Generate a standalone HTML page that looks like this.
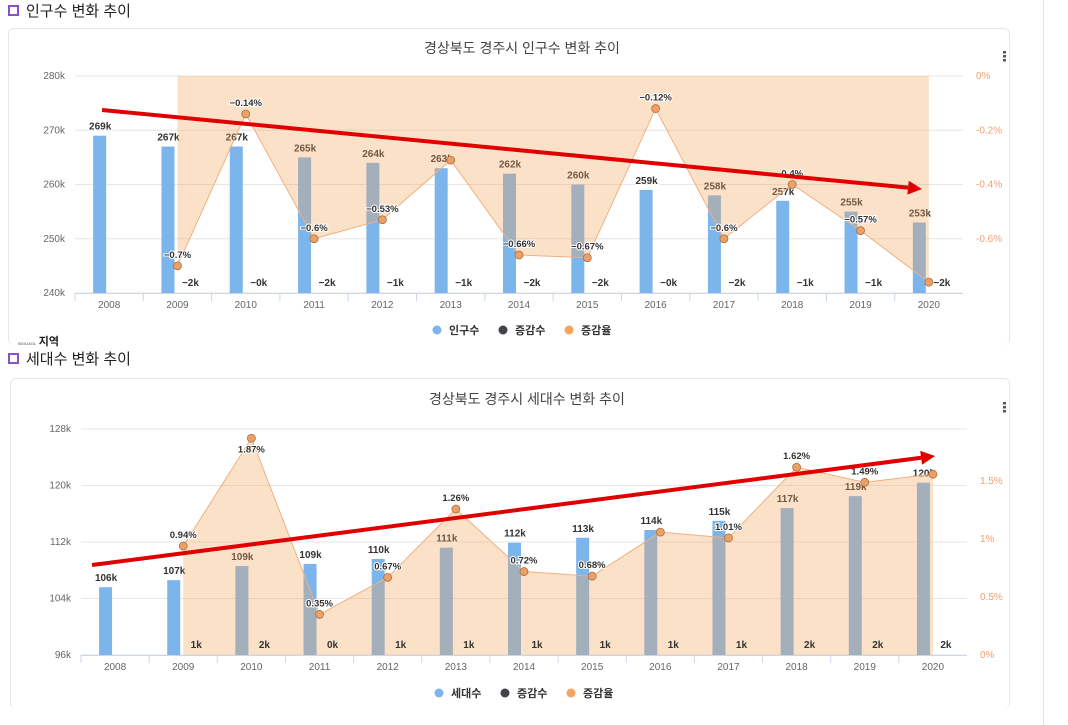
<!DOCTYPE html>
<html><head><meta charset="utf-8">
<style>
body{margin:0;width:1068px;height:725px;background:#fff;font-family:"Liberation Sans","Noto Sans CJK KR",sans-serif;overflow:hidden;position:relative}
.hdr{position:absolute;left:8px;font-size:15px;color:#222;display:flex;align-items:center}
.hdr i{display:inline-block;width:7px;height:7px;border:2px solid #8a4fc9;margin-right:7px}
.card{position:absolute;border:1px solid #e6e6e6;border-radius:6px;background:#fff}
svg{position:absolute;left:0;top:0}
.vline{position:absolute;left:1043px;top:0;width:1px;height:725px;background:#e4e4e4}
</style></head><body>
<div class="hdr" style="top:0px"><i></i>인구수 변화 추이</div>
<div class="hdr" style="top:348px"><i></i>세대수 변화 추이</div>
<div class="card" style="left:8px;top:28px;width:1000px;height:316px;border-bottom:none"></div>
<div class="card" style="left:10px;top:378px;width:998px;height:330px;border-bottom:none"></div>
<div class="vline"></div>
<div style="position:absolute;left:18px;top:333px;font-size:11px;font-weight:bold;color:#222"><span style="font-size:4px;color:#888">BIGDATA</span> 지역</div>
<svg id="chart" width="1068" height="725" xmlns="http://www.w3.org/2000/svg"></svg>
<script>
const years = ['2008','2009','2010','2011','2012','2013','2014','2015','2016','2017','2018','2019','2020'];
const popValues = [269,267,267,265,264,263,262,260,259,258,257,255,253];
const popRates = [null,-0.7,-0.14,-0.6,-0.53,-0.31,-0.66,-0.67,-0.12,-0.6,-0.4,-0.57,-0.76];
const popRateLabels = ['','−0.7%','−0.14%','−0.6%','−0.53%','','−0.66%','−0.67%','−0.12%','−0.6%','0.4%','−0.57%',''];
const popChanges = ['','−2k','−0k','−2k','−1k','−1k','−2k','−2k','−0k','−2k','−1k','−1k','−2k'];
const popLeftTicks = [240,250,260,270,280];
const popRightTicks = [0,-0.2,-0.4,-0.6];
const hhValues = [105.6,106.6,108.6,108.9,109.6,111.2,111.9,112.6,113.7,115,116.8,118.5,120.4];
const hhRates = [null,0.94,1.87,0.35,0.67,1.26,0.72,0.68,1.06,1.01,1.62,1.49,1.56];
const hhRateLabels = ['','0.94%','1.87%','0.35%','0.67%','1.26%','0.72%','0.68%','','1.01%','1.62%','1.49%',''];
const hhChanges = ['','1k','2k','0k','1k','1k','1k','1k','1k','1k','2k','2k','2k'];
const hhLeftTicks = [96,104,112,120,128];
const hhRightTicks = [0,0.5,1,1.5];

const svg=document.getElementById('chart');
const NS='http://www.w3.org/2000/svg';
function mk(tag,at,parent){const e=document.createElementNS(NS,tag);for(const k in at)e.setAttribute(k,at[k]);(parent||svg).appendChild(e);return e;}
function txt(s,at){const e=mk('text',at);e.textContent=s;return e;}

function draw(cfg){
  const {x0,x1,yTop,yBot,lMin,lMax,rMin,rMax,vals,rates,rlabels,changes,lt,rt,title,titleY,legend,legendY,arrow,rateBelow}=cfg;
  const n=years.length, step=(x1-x0)/n;
  const cx=i=>x0+step*(i+0.5);
  const yl=v=>yBot-(v-lMin)/(lMax-lMin)*(yBot-yTop);
  const yr=v=>yBot-(v-rMin)/(rMax-rMin)*(yBot-yTop);
  let t=txt(title,{x:(x0+x1)/2+3,y:titleY,'text-anchor':'middle','font-size':14,fill:'#444'});
  
  const menu=mk('g',{});
  for(let k=0;k<3;k++)mk('rect',{x:1003,y:titleY-2+k*4,width:3,height:2.5,fill:'#555'},menu);
  lt.forEach(v=>{
    const g=mk('line',{x1:x0,x2:x1,y1:yl(v),y2:yl(v),stroke:'#e6e6e6'});
    const l=txt(v+'k',{x:x0-10,y:yl(v)+3,'text-anchor':'end','font-size':10,fill:'#666'});
  });
  rt.forEach(v=>{
    const l=txt(v+'%',{x:x1+13,y:yr(v)+3,'font-size':10,fill:'#f0a070'});
  });
  const ax=mk('line',{x1:x0,x2:x1,y1:yBot+0.5,y2:yBot+0.5,stroke:'#ccd6eb'});
  years.forEach((y,i)=>{
    mk('line',{x1:x0+step*i,x2:x0+step*i,y1:yBot,y2:yBot+8,stroke:'#ccd6eb'});
    const l=txt(y,{x:cx(i),y:yBot+15,'text-anchor':'middle','font-size':10,fill:'#666'});
  });
  vals.forEach((v,i)=>{
    const b=mk('rect',{x:cx(i)-16,y:yl(v),width:13,height:yBot-yl(v),fill:'#7cb5ec'});
    
    const l=txt(Math.round(v)+'k',{x:cx(i)-9,y:yl(v)-6,'text-anchor':'middle','font-size':10,'font-weight':'bold',fill:'#333',stroke:'#fff','stroke-width':2,'paint-order':'stroke'});
    
  });
  let pts=[];rates.forEach((r,i)=>{if(r!==null)pts.push([cx(i),yr(r)]);});
  const y0=yr(0);
  const d='M'+pts[0][0]+','+y0+' '+pts.map(p=>'L'+p[0]+','+p[1]).join(' ')+' L'+pts[pts.length-1][0]+','+y0+'Z';
  const a=mk('path',{d:d,fill:'rgba(247,163,92,0.33)'});
  const ln=mk('path',{d:'M'+pts.map(p=>p.join(',')).join(' L'),fill:'none',stroke:'#f0b080','stroke-width':1});
  rates.forEach((r,i)=>{
    if(r===null)return;
    const c=mk('circle',{cx:cx(i),cy:yr(r),r:4,fill:'#eda066',stroke:'#a9703f','stroke-width':0.8});
    if(rlabels[i]){const l=txt(rlabels[i],{x:cx(i),y:rateBelow&&i==2?yr(r)+14:yr(r)-8,'text-anchor':'middle','font-size':9.5,'font-weight':'bold',fill:'#333',stroke:'#fff','stroke-width':2,'paint-order':'stroke'});}
  });
  changes.forEach((c,i)=>{if(!c)return;const l=txt(c,{x:cx(i)+13,y:yBot-7,'text-anchor':'middle','font-size':10,'font-weight':'bold',fill:'#333'});});
  const [ax1,ay1,ax2,ay2]=arrow;const ang=Math.atan2(ay2-ay1,ax2-ax1);
  const bx=ax2-14*Math.cos(ang),by=ay2-14*Math.sin(ang);
  const ar=mk('g',{});
  mk('line',{x1:ax1,y1:ay1,x2:bx,y2:by,stroke:'#e00000','stroke-width':4},ar);
  const px=-Math.sin(ang)*7,py=Math.cos(ang)*7;
  mk('polygon',{points:`${ax2},${ay2} ${bx+px},${by+py} ${bx-px},${by-py}`,fill:'#e00000'},ar);
  const cols=['#7cb5ec','#434348','#f7a35c'];
  legend.forEach((s,k)=>{
    const g=mk('g',{});
    const lx=cfg.legendX+k*66;
    mk('circle',{cx:lx,cy:legendY-4,r:4.5,fill:cols[k]},g);
    const l=mk('text',{x:lx+12,y:legendY,'font-size':11,'font-weight':'bold',fill:'#333'},g);l.textContent=s;
  });
}
draw({x0:75,x1:963,yTop:76,yBot:293,lMin:240,lMax:280,rMin:-0.8,rMax:0,vals:popValues,rates:popRates,rlabels:popRateLabels,changes:popChanges,lt:popLeftTicks,rt:popRightTicks,title:'경상북도 경주시 인구수 변화 추이',titleY:53,legend:['인구수','증감수','증감율'],legendY:334,legendX:437,arrow:[102,110,922,189]});
draw({x0:81,x1:967,yTop:429,yBot:655,lMin:96,lMax:128,rMin:0,rMax:1.95,vals:hhValues,rates:hhRates,rlabels:hhRateLabels,changes:hhChanges,lt:hhLeftTicks,rt:hhRightTicks,title:'경상북도 경주시 세대수 변화 추이',titleY:404,legend:['세대수','증감수','증감율'],legendY:697,legendX:439,arrow:[92,565,935,456],rateBelow:true});
</script>
</body></html>
